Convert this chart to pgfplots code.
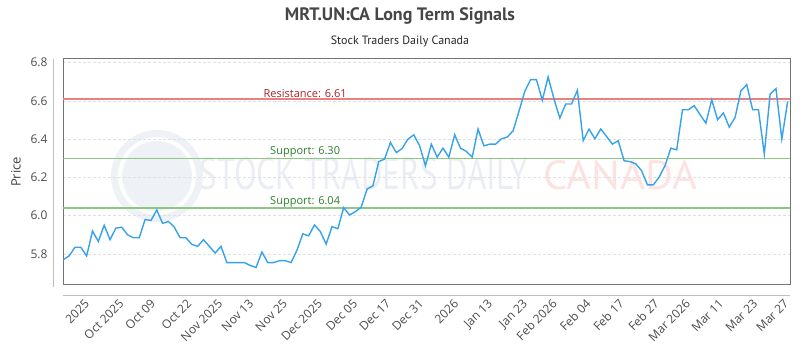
\documentclass[border=0pt]{standalone}
\usepackage{fontspec}
\setmainfont{Open Sans}
\newfontfamily\titlefont{PT Sans}
\usepackage{graphicx}
\usepackage{pgfplots}
\pgfplotsset{compat=1.18}
\definecolor{linec}{RGB}{54,162,235}
\definecolor{resline}{RGB}{232,130,130}
\definecolor{supline}{RGB}{140,200,130}
\definecolor{restext}{RGB}{170,35,35}
\definecolor{suptext}{RGB}{45,125,45}
\definecolor{wmblue}{RGB}{234,237,244}
\definecolor{wmred}{RGB}{253,226,226}
\definecolor{titlec}{RGB}{70,70,70}
\begin{document}
\begin{tikzpicture}[x=1pt,y=1pt]
\path[use as bounding box] (0,0) rectangle (800,350);
\node[font=\titlefont\bfseries\fontsize{18}{20}\selectfont, text=titlec] at (400,334) {MRT.UN:CA Long Term Signals};
\node[font=\titlefont\fontsize{12}{14}\selectfont, text=black!85] at (400,309) {Stock Traders Daily Canada};
% watermark
\fill[wmblue!80] (157,174) circle (46);
\fill[white] (157,174) circle (39);
\fill[wmblue!80] (157,174) circle (35);
\node[text=wmblue, inner sep=0] at (364,176) {\resizebox{328pt}{32pt}{\titlefont STOCK TRADERS DAILY}};
\node[text=wmred, inner sep=0] at (620,175) {\resizebox{154pt}{29pt}{\titlefont CANADA}};
\node[rotate=90, font=\fontsize{13}{15}\selectfont, text=black!75] at (16,178) {Price};
\draw[black!25, line width=1pt] (53,291) -- (53,63);
\draw[black!25, line width=1pt] (63,54) -- (790,54);
\begin{axis}[
  at={(63pt,65pt)}, anchor=south west, scale only axis,
  width=727pt, height=226pt,
  xmin=-0.05, xmax=124.4, ymin=5.638, ymax=6.819,
  axis line style={draw=black!55, line width=1pt},
  major tick length=0pt,
  ytick={5.8,6.0,6.2,6.4,6.6,6.8},
  /pgf/number format/fixed, /pgf/number format/fixed zerofill, /pgf/number format/precision=1,
  /pgf/number format/assume math mode=true,
  yticklabel style={font=\fontsize{12}{14}\selectfont, text=black!70, xshift=-12pt},
  ymajorgrids, major grid style={densely dashed, black!12, line width=0.8pt},
  xtick={3,8.9,14.3,20.5,25.8,31.1,36.9,42.9,48.9,54.6,60.2,66.2,72,78,83,88.8,94.5,100.5,105.9,111.6,117.4,122.7},
  xticklabels={2025,Oct 2025,Oct 09,Oct 22,Nov 2025,Nov 13,Nov 25,Dec 2025,Dec 05,Dec 17,Dec 31,2026,Jan 13,Jan 23,Feb 2026,Feb 04,Feb 17,Feb 27,Mar 2026,Mar 11,Mar 23,Mar 27},
  xticklabel style={yshift=-12pt, xshift=3pt, rotate=45, anchor=north east, font=\fontsize{12}{14}\selectfont, text=black!70, inner sep=1pt},
  clip=true,
]
\addplot[resline, line width=1.5pt, forget plot] coordinates {(-2,6.61) (130,6.61)};
\addplot[supline, line width=1.5pt, forget plot] coordinates {(-2,6.30) (130,6.30)};
\addplot[supline, line width=1.5pt, forget plot] coordinates {(-2,6.04) (130,6.04)};
\addplot[linec, line width=1.4pt, mark=none] coordinates {
(0,5.770) (1,5.790) (2,5.835) (3,5.835) (4,5.790) (5,5.920) (6,5.865) (7,5.950) (8,5.875) (9,5.935)
(10,5.940) (11,5.900) (12,5.885) (13,5.885) (14,5.980) (15,5.975) (16,6.030) (17,5.960) (18,5.970) (19,5.940)
(20,5.885) (21,5.885) (22,5.850) (23,5.840) (24,5.875) (25,5.840) (26,5.805) (27,5.840) (28,5.755) (29,5.755)
(30,5.755) (31,5.755) (32,5.740) (33,5.730) (34,5.810) (35,5.755) (36,5.755) (37,5.765) (38,5.765) (39,5.755)
(40,5.820) (41,5.905) (42,5.895) (43,5.952) (44,5.917) (45,5.852) (46,5.943) (47,5.932) (48,6.042) (49,6.004)
(50,6.021) (51,6.045) (52,6.139) (53,6.156) (54,6.283) (55,6.296) (56,6.383) (57,6.330) (58,6.351) (59,6.400)
(60,6.423) (61,6.365) (62,6.261) (63,6.374) (64,6.306) (65,6.353) (66,6.306) (67,6.423) (68,6.353) (69,6.336)
(70,6.306) (71,6.453) (72,6.365) (73,6.374) (74,6.374) (75,6.402) (76,6.411) (77,6.444) (78,6.545) (79,6.650)
(80,6.711) (81,6.711) (82,6.603) (83,6.725) (84,6.610) (85,6.510) (86,6.584) (87,6.584) (88,6.655) (89,6.392)
(90,6.453) (91,6.402) (92,6.453) (93,6.414) (94,6.374) (95,6.392) (96,6.287) (97,6.283) (98,6.271) (99,6.235)
(100,6.161) (101,6.161) (102,6.202) (103,6.261) (104,6.353) (105,6.344) (106,6.554) (107,6.554) (108,6.575) (109,6.528)
(110,6.484) (111,6.606) (112,6.502) (113,6.537) (114,6.463) (115,6.514) (116,6.653) (117,6.685) (118,6.554) (119,6.554)
(120,6.322) (121,6.636) (122,6.664) (123,6.400) (124,6.597)
};
\node[anchor=south, inner sep=1pt, text=restext, font=\fontsize{11}{13}\selectfont] at (axis cs:41.4,6.61) {Resistance: 6.61};
\node[anchor=south, inner sep=1pt, text=suptext, font=\fontsize{11}{13}\selectfont] at (axis cs:41.4,6.30) {Support: 6.30};
\node[anchor=south, inner sep=1pt, text=suptext, font=\fontsize{11}{13}\selectfont] at (axis cs:41.4,6.04) {Support: 6.04};
\end{axis}
\end{tikzpicture}
\end{document}
